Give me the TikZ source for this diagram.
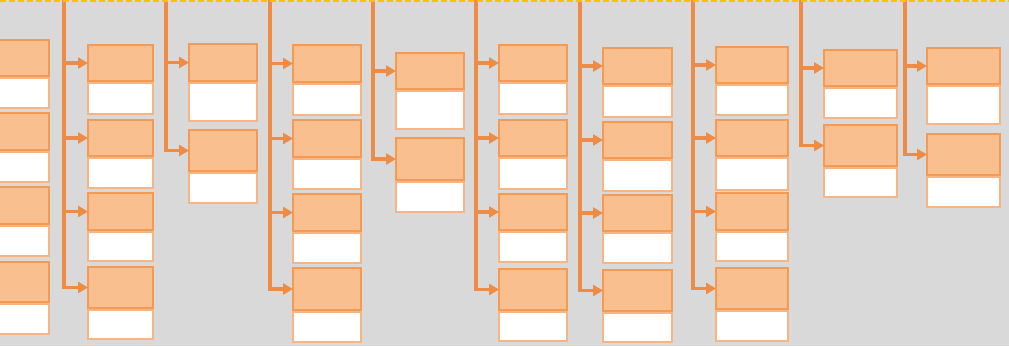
\documentclass[tikz,border=0pt]{standalone}
\usetikzlibrary{arrows.meta}
\definecolor{panel}{HTML}{D9D9D9}
\definecolor{headfill}{HTML}{F9BF8F}
\definecolor{headline}{HTML}{F59A52}
\definecolor{bodyline}{HTML}{F8B483}
\definecolor{trunk}{HTML}{EE8B45}
\definecolor{rulegold}{HTML}{FFC000}
\tikzset{
  head/.style={draw=headline,fill=headfill,line width=1.2pt,inner sep=0,outer sep=0,anchor=north west},
  body/.style={draw=bodyline,fill=white,line width=1.2pt,inner sep=0,outer sep=0,anchor=north west},
  link/.style={draw=trunk,line width=3.5pt,-{Triangle[length=10pt,width=11pt]}},
  spine/.style={draw=trunk,line width=4pt},
}
\begin{document}
\begin{tikzpicture}[x=1pt,y=-1pt]
\useasboundingbox[fill=panel] (0,0) rectangle (1009,346);
\clip (0,0) rectangle (1009,346);
\foreach \c/\xt/\xl/\xr/\rows in {
    0/-40/-20/49/{40/76/108,113/150/182,187/224/256,262/302/334},
    1/64/88/153/{45/81/114,120/156/188,193/230/261,267/308/339},
    2/166/189/257/{44/81/121,130/171/203},
    3/270/293/361/{45/82/115,120/157/189,194/231/263,268/310/342},
    4/373/396/464/{53/89/129,138/180/212},
    5/476/499/567/{45/81/114,120/156/189,194/230/262,269/310/341},
    6/580/603/672/{48/84/117,122/158/191,195/231/263,270/311/342},
    7/693/716/788/{47/83/115,120/156/190,193/230/261,268/309/341},
    8/801/824/897/{50/86/118,125/166/197},
    9/905/927/1000/{48/84/124,134/175/207}}{
  \coordinate (top\c) at (\xt,-2);
  \foreach \ya/\yb/\yc [count=\r] in \rows {
    \node[head,minimum width={(\xr-(\xl))*1pt},minimum height={(\yb-\ya)*1pt}] (h\c-\r) at (\xl,\ya) {};
    \node[body,minimum width={(\xr-(\xl))*1pt},minimum height={(\yc-\yb-2)*1pt}] (t\c-\r) at (\xl,\yb+2) {};
    \ifnum\c>0
      \draw[spine] (top\c) -- (top\c |- h\c-\r.west);
      \draw[link] (top\c) |- (h\c-\r.west);
    \fi
  }
}
\draw[rulegold,line width=2.5pt,dash pattern=on 6pt off 3pt] (0,1)--(1009,1);
\end{tikzpicture}
\end{document}
